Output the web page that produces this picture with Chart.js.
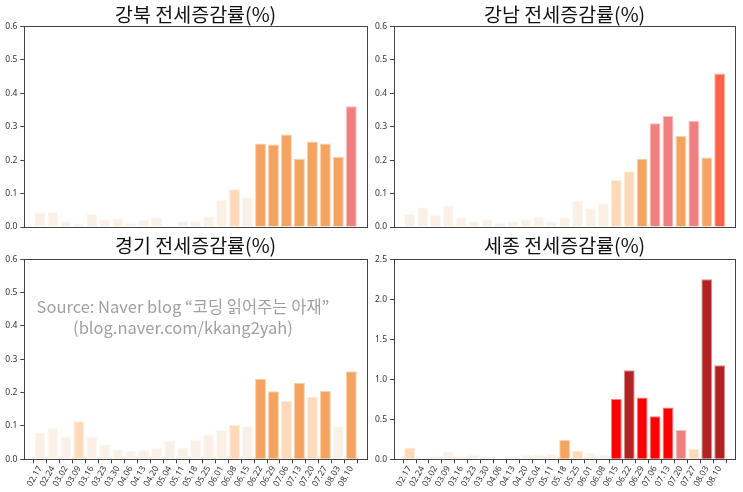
<!DOCTYPE html>
<html>
<head>
<meta charset="utf-8">
<script src="https://cdn.jsdelivr.net/npm/chart.js@4.4.1/dist/chart.umd.min.js"></script>
<style>
  body { margin: 0; background: #fff; width: 743px; height: 492px; position: relative; overflow: hidden; }
  .box { position: absolute; }
  .note {
    position: absolute; left: 23px; top: 296px; width: 320px;
    text-align: center; color: rgba(128,128,128,0.75);
    font-family: "Noto Sans CJK KR", "Noto Sans", sans-serif; font-size: 16.5px; line-height: 21px;
  }
</style>
</head>
<body>
<div class="box" style="left:0;top:0;width:372px;height:240px"><canvas id="gangbuk"></canvas></div>
<div class="box" style="left:372px;top:0;width:371px;height:240px"><canvas id="gangnam"></canvas></div>
<div class="box" style="left:0;top:232px;width:372px;height:260px"><canvas id="gyeonggi"></canvas></div>
<div class="box" style="left:372px;top:232px;width:371px;height:260px"><canvas id="sejong"></canvas></div>
<div class="note">Source: Naver blog “코딩 읽어주는 아재”<br>(blog.naver.com/kkang2yah)</div>
<script>
// DATA
const dates = ["02.17", "02.24", "03.02", "03.09", "03.16", "03.23", "03.30", "04.06", "04.13", "04.20",
  "05.04", "05.11", "05.18", "05.25", "06.01", "06.08", "06.15", "06.22", "06.29", "07.06",
  "07.13", "07.20", "07.27", "08.03", "08.10"];

const gangbuk = [0.043, 0.045, 0.017, 0.009, 0.039, 0.023, 0.026, 0.012, 0.021, 0.029,
  0.0, 0.017, 0.018, 0.032, 0.081, 0.113, 0.089, 0.250, 0.247, 0.277,
  0.204, 0.256, 0.250, 0.210, 0.361];

const gangnam = [0.039, 0.059, 0.036, 0.064, 0.029, 0.017, 0.023, 0.012, 0.017, 0.023,
  0.031, 0.017, 0.029, 0.079, 0.056, 0.071, 0.141, 0.167, 0.204, 0.310,
  0.333, 0.273, 0.318, 0.208, 0.459];

const gyeonggi = [0.079, 0.095, 0.068, 0.114, 0.068, 0.045, 0.030, 0.026, 0.028, 0.035,
  0.055, 0.035, 0.058, 0.074, 0.088, 0.103, 0.099, 0.242, 0.204, 0.175,
  0.230, 0.187, 0.205, 0.099, 0.264];

const sejong = [0.146, 0.0, 0.042, 0.096, 0.042, 0.058, 0.038, 0.005, 0.038, 0.058,
  0.054, 0.067, 0.242, 0.108, 0.079, 0.058, 0.754, 1.113, 0.771, 0.538,
  0.646, 0.367, 0.129, 2.250, 1.175];

const titles = ["강북 전세증감률(%)", "강남 전세증감률(%)", "경기 전세증감률(%)", "세종 전세증감률(%)"];

// colour by size of the change
const barColor = (v) => {
  if (v < 0.1) return "#FAF0E6";
  if (v < 0.2) return "#FFDAB9";
  if (v < 0.3) return "#F4A460";
  if (v < 0.4) return "#F08080";
  if (v < 0.5) return "#FF6347";
  if (v < 1.0) return "#FF0000";
  return "#B22222";
}

// box round the plot area
const frame = {
  id: "frame",
  afterDraw(chart) {
    const a = chart.chartArea;
    const ctx = chart.ctx;
    ctx.save();
    ctx.strokeStyle = "#444";
    ctx.lineWidth = 1;
    ctx.strokeRect(Math.round(a.left) + 0.5, Math.round(a.top) + 0.5,
      Math.round(a.right - a.left), Math.round(a.bottom - a.top));
    ctx.restore();
  }
}

const tickFont = { family: "'Noto Sans', sans-serif", size: 8.5 };

const makeChart = (id, values, title, opts) => {
  const ctx = document.getElementById(id).getContext("2d");
  return new Chart(ctx, {
    type: "bar",
    data: {
      datasets: [{
        data: values.map((v, i) => ({ x: i, y: v })),
        backgroundColor: values.map(barColor),
        borderColor: values.map(v => barColor(v) + "80"),
        borderWidth: 1,
        borderSkipped: "bottom",
        categoryPercentage: 0.84,
        barPercentage: 1
      }]
    },
    plugins: [frame],
    options: {
      responsive: true,
      maintainAspectRatio: false,
      animation: false,
      layout: { padding: opts.padding },
      plugins: {
        legend: { display: false },
        tooltip: { enabled: false },
        title: {
          display: true,
          text: title,
          fullSize: false,
          color: "#111",
          font: { family: "'Noto Sans CJK KR', sans-serif", size: 19.5, weight: "normal", lineHeight: 1.2 },
          padding: opts.titlePad
        }
      },
      scales: {
        x: {
          type: "linear",
          min: -0.68,
          max: 24.68,
          display: opts.showDates,
          border: { display: false },
          grid: { drawOnChartArea: false, tickLength: 4, color: "#444" },
          afterBuildTicks: (s) => { s.ticks = dates.map((d, i) => ({ value: i })); },
          afterFit: (s) => { s.height = opts.xHeight; },
          ticks: {
            autoSkip: false,
            minRotation: 60,
            maxRotation: 60,
            padding: 1,
            color: "#333",
            font: tickFont,
            callback: (v, i) => dates[i]
          }
        },
        y: {
          min: 0,
          max: opts.yMax,
          border: { display: false },
          grid: { drawOnChartArea: false, tickLength: 4, color: "#444" },
          afterFit: (s) => { s.width = opts.yWidth; },
          ticks: {
            stepSize: opts.yStep,
            padding: 3,
            color: "#333",
            font: tickFont,
            callback: (v) => v.toFixed(1)
          }
        }
      }
    }
  });
}

makeChart("gangbuk", gangbuk, titles[0], {
  padding: { left: 0, right: 5, top: 0, bottom: 13 }, titlePad: { top: 3, bottom: 0 },
  showDates: false, xHeight: 0, yWidth: 24.3, yMax: 0.6, yStep: 0.1
});
makeChart("gangnam", gangnam, titles[1], {
  padding: { left: 0, right: 7.7, top: 0, bottom: 13 }, titlePad: { top: 3, bottom: 0 },
  showDates: false, xHeight: 0, yWidth: 22, yMax: 0.6, yStep: 0.1
});
makeChart("gyeonggi", gyeonggi, titles[2], {
  padding: { left: 0, right: 5, top: 0, bottom: 0 }, titlePad: { top: 1.5, bottom: 2.4 },
  showDates: true, xHeight: 32.7, yWidth: 24.3, yMax: 0.6, yStep: 0.1
});
makeChart("sejong", sejong, titles[3], {
  padding: { left: 0, right: 7.7, top: 0, bottom: 0 }, titlePad: { top: 1.5, bottom: 2.4 },
  showDates: true, xHeight: 32.7, yWidth: 22, yMax: 2.5, yStep: 0.5
});
</script>
</body>
</html>
